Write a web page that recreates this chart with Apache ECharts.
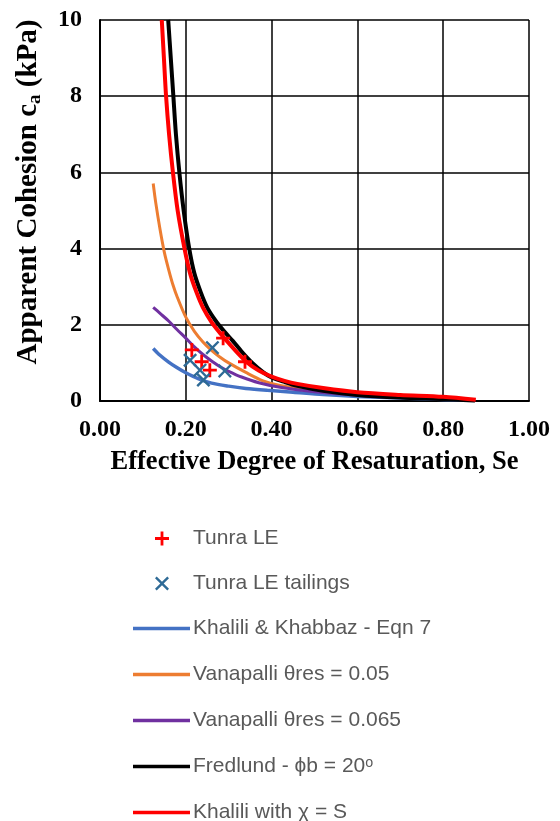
<!DOCTYPE html>
<html>
<head>
<meta charset="utf-8">
<script src="https://cdn.jsdelivr.net/npm/echarts@6/dist/echarts.min.js"></script>
<style>html,body{margin:0;padding:0;background:#fff;}#c{width:560px;height:821px;}</style>
</head>
<body>
<div id="c"></div>
<script>
// ---- data (Se, apparent cohesion kPa) ----
const tunraLE = [[0.214,1.34],[0.287,1.65],[0.237,1.03],[0.256,0.81],[0.338,1.03]];
const tunraTailings = [[0.262,1.40],[0.210,1.07],[0.233,0.81],[0.241,0.55],[0.291,0.79]];
const khaliliKhabbaz = [[0.124,1.38],[0.14,1.2],[0.16,1.02],[0.18,0.87],[0.20,0.74],[0.23,0.58],[0.26,0.47],[0.30,0.39],[0.34,0.33],[0.39,0.28],[0.45,0.23],[0.52,0.17],[0.6,0.12],[0.7,0.08],[0.8,0.04],[0.874,0.01]];
const vanapalli005 = [[0.124,5.71],[0.13,5.2],[0.14,4.5],[0.15,3.9],[0.16,3.45],[0.17,3.05],[0.18,2.73],[0.20,2.2],[0.22,1.83],[0.24,1.55],[0.26,1.33],[0.28,1.15],[0.30,1.0],[0.34,0.75],[0.38,0.53],[0.42,0.41],[0.5,0.27],[0.6,0.17],[0.7,0.1],[0.8,0.06],[0.874,0.02]];
const vanapalli0065 = [[0.124,2.46],[0.14,2.3],[0.16,2.1],[0.18,1.87],[0.20,1.65],[0.22,1.42],[0.24,1.22],[0.26,1.05],[0.28,0.9],[0.30,0.78],[0.33,0.63],[0.37,0.48],[0.42,0.36],[0.5,0.24],[0.6,0.15],[0.7,0.09],[0.8,0.05],[0.874,0.02]];
const fredlund = [[0.159,10],[0.165,9],[0.171,8],[0.177,7],[0.185,6],[0.195,5],[0.208,4],[0.22,3.35],[0.235,2.85],[0.25,2.45],[0.27,2.1],[0.29,1.82],[0.31,1.57],[0.33,1.3],[0.355,1.0],[0.38,0.76],[0.40,0.62],[0.43,0.5],[0.46,0.4],[0.52,0.27],[0.6,0.16],[0.7,0.09],[0.8,0.05],[0.874,0.01]];
const khaliliChiS = [[0.144,10],[0.149,9],[0.154,8],[0.161,7],[0.170,6],[0.181,5],[0.197,4],[0.21,3.35],[0.225,2.85],[0.24,2.45],[0.26,2.07],[0.28,1.78],[0.30,1.52],[0.32,1.27],[0.342,1.02],[0.37,0.8],[0.40,0.64],[0.43,0.53],[0.46,0.45],[0.52,0.34],[0.6,0.23],[0.7,0.16],[0.8,0.11],[0.876,0.03]];
const xTicks = [0, 0.2, 0.4, 0.6, 0.8, 1.0];
const yTicks = [0, 2, 4, 6, 8, 10];
const seriesNames = ['Tunra LE','Tunra LE tailings','Khalili & Khabbaz - Eqn 7','Vanapalli \u03B8res = 0.05','Vanapalli \u03B8res = 0.065','Fredlund - \u03D5b = 20\u1D52','Khalili with \u03C7 = S'];

const plusPath = 'path://M4,0h2v4h4v2h-4v4h-2v-4h-4v-2h4z';
const crossPath = 'path://M1.2,0L5,3.8L8.8,0L10,1.2L6.2,5L10,8.8L8.8,10L5,6.2L1.2,10L0,8.8L3.8,5L0,1.2Z';

const serif = '"Liberation Serif","Times New Roman",serif';
const sans = '"Liberation Sans","Noto Sans",sans-serif';
const chart = echarts.init(document.getElementById('c'), null, {renderer:'canvas'});
function lineSeries(name, data, color, width, z){
  return {name, type:'line', data, smooth:0.3, showSymbol:false, symbol:'none', z,
    lineStyle:{color, width}, itemStyle:{color}, clip:true};
}
chart.setOption({
  animation:false,
  backgroundColor:'#fff',
  grid:{left:100, right:31, top:20, bottom:420, show:false},
  xAxis:{type:'value', min:xTicks[0], max:xTicks[xTicks.length-1], interval:0.2,
    axisLine:{show:true, onZero:false, lineStyle:{color:'#000', width:2}},
    axisTick:{show:false},
    splitLine:{show:true, lineStyle:{color:'#000', width:1.5}},
    axisLabel:{formatter:v=>v.toFixed(2), fontFamily:serif, fontWeight:'bold', fontSize:24, color:'#000', margin:17},
    name:'Effective Degree of Resaturation, Se', nameLocation:'middle', nameGap:48,
    nameTextStyle:{fontFamily:serif, fontWeight:'bold', fontSize:26.5, color:'#000'}
  },
  yAxis:{type:'value', min:yTicks[0], max:yTicks[yTicks.length-1], interval:2,
    axisLine:{show:true, onZero:false, lineStyle:{color:'#000', width:2}},
    axisTick:{show:false},
    splitLine:{show:true, lineStyle:{color:'#000', width:1.5}},
    axisLabel:{fontFamily:serif, fontWeight:'bold', fontSize:24, color:'#000', margin:18}
  },
  graphic:[{
    type:'text', x:29, y:192, rotation:Math.PI/2,
    style:{text:'Apparent Cohesion c{sub|a} (kPa)', fontFamily:serif, fontWeight:'bold', fontSize:29, fill:'#000',
      align:'center', verticalAlign:'middle',
      rich:{sub:{fontFamily:serif, fontWeight:'bold', fontSize:19, fill:'#000', verticalAlign:'bottom', padding:[12,0,0,0]}}}
  }],
  legend:[
    {data:[seriesNames[0], seriesNames[1]], orient:'vertical', left:150, top:523, height:200, itemWidth:14, itemHeight:14,
      itemGap:24,
      textStyle:{fontFamily:sans, fontSize:21, color:'#595959', lineHeight:20, padding:[0,0,0,19]}},
    {data:seriesNames.slice(2), orient:'vertical', left:128, top:613, height:250, itemWidth:57, itemHeight:3.5,
      itemGap:25, icon:'rect',
      textStyle:{fontFamily:sans, fontSize:21, color:'#595959', lineHeight:20, padding:[0,0,0,-2]}}
  ],
  series:[
    {name:seriesNames[0], type:'scatter', data:tunraLE, symbol:plusPath, symbolSize:14, z:10, itemStyle:{color:'#FF0000', opacity:1}},
    {name:seriesNames[1], type:'scatter', data:tunraTailings, symbol:crossPath, symbolSize:14, z:10, itemStyle:{color:'#2E6A96', opacity:1}},
    lineSeries(seriesNames[2], khaliliKhabbaz, '#4472C4', 3.5, 3),
    lineSeries(seriesNames[3], vanapalli005, '#ED7D31', 3, 4),
    lineSeries(seriesNames[4], vanapalli0065, '#7030A0', 3, 5),
    lineSeries(seriesNames[5], fredlund, '#000000', 4, 6),
    lineSeries(seriesNames[6], khaliliChiS, '#FF0000', 4, 7)
  ]
});
</script>
</body>
</html>
